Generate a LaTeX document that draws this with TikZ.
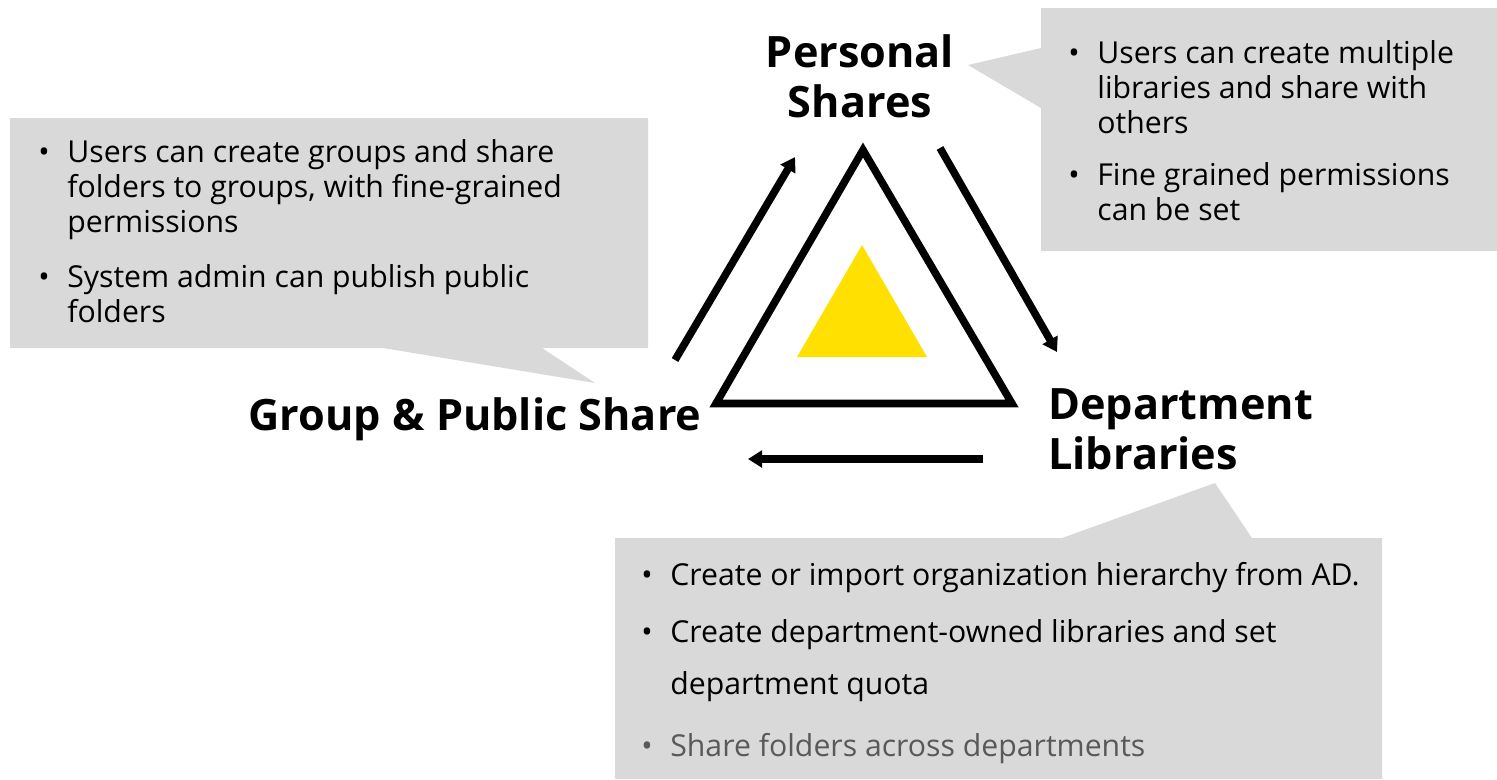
\documentclass[tikz,border=0pt]{standalone}
\usepackage{fontspec}
\setmainfont{Open Sans}
\usetikzlibrary{arrows.meta}
\definecolor{calloutgray}{HTML}{D9D9D9}
\definecolor{coreyellow}{HTML}{FFE000}
\definecolor{fadedtext}{HTML}{595959}
\newcommand{\bull}{\llap{\textbullet\hspace{10pt}}}
\begin{document}
\begin{tikzpicture}[
    x=0.02cm, y=-0.02cm,
    callout/.style={fill=calloutgray, draw=none},
    title/.style={font=\fontsize{24.6}{28.4}\selectfont\bfseries, inner sep=0pt},
    note/.style={font=\fontsize{17.2}{19.9}\selectfont, align=left, inner sep=0pt, anchor=base west},
    flow/.style={-{Triangle[length=8pt,width=9.5pt]}, line width=4.3pt},
    ring/.style={draw, line width=4.3pt, line join=miter}
  ]
  \useasboundingbox (0,0) rectangle (1497,779);

  % Callout backgrounds
  \path[callout] (1041,8) -- (1497,8) -- (1497,251) -- (1041,251) -- (1041,108) -- (968,65) -- (1041,48) -- cycle;
  \path[callout] (10,118) -- (648,118) -- (648,348) -- (542,348) -- (595,383) -- (383,348) -- (10,348) -- cycle;
  \path[callout] (615,538) -- (1062,538) -- (1215,483) -- (1252,538) -- (1382,538) -- (1382,779) -- (615,779) -- cycle;

  % Central triangles
  \draw[ring] (863,150) -- (1012,403.5) -- (716,403.5) -- cycle;
  \fill[coreyellow] (862,245) -- (927,357) -- (797,357) -- cycle;

  % Titles (base = last line)
  \node[title, align=center, anchor=base] (personal) at (860,117) {Personal\\Shares};
  \node[title, anchor=base] (group) at (475,430) {Group \& Public Share};
  \node[title, align=left, anchor=base west] (dept) at (1048,469) {Department\\Libraries};

  % Arrow ends
  \coordinate (groupOut) at (675,360);
  \coordinate (personalIn) at (795,157);
  \coordinate (personalOut) at (940,148);
  \coordinate (deptIn) at (1057,352);
  \coordinate (deptOut) at (983,459);
  \coordinate (groupIn) at (748,459);

  % Cycle arrows
  \draw[flow] (groupOut) -- (personalIn);
  \draw[flow] (personalOut) -- (deptIn);
  \draw[flow] (deptOut) -- (groupIn);

  % Callout texts
  \node[note] (personalNote) at (1097,220) {\bull Users can create multiple\\libraries and share with\\others\\[9.6pt]\bull Fine grained permissions\\can be set};
  \node[note] (groupNote) at (67,322) {\bull Users can create groups and share\\folders to groups, with fine-grained\\permissions\\[11pt]\bull System admin can publish public\\folders};
  \node[note, font=\fontsize{17.2}{29.5}\selectfont] (deptNote) at (670,756) {\bull Create or import organization hierarchy from AD.\\[2.8pt]\bull Create department-owned libraries and set\\department quota\\[5.7pt]{\color{fadedtext}\bull Share folders across departments}};

\end{tikzpicture}
\end{document}
